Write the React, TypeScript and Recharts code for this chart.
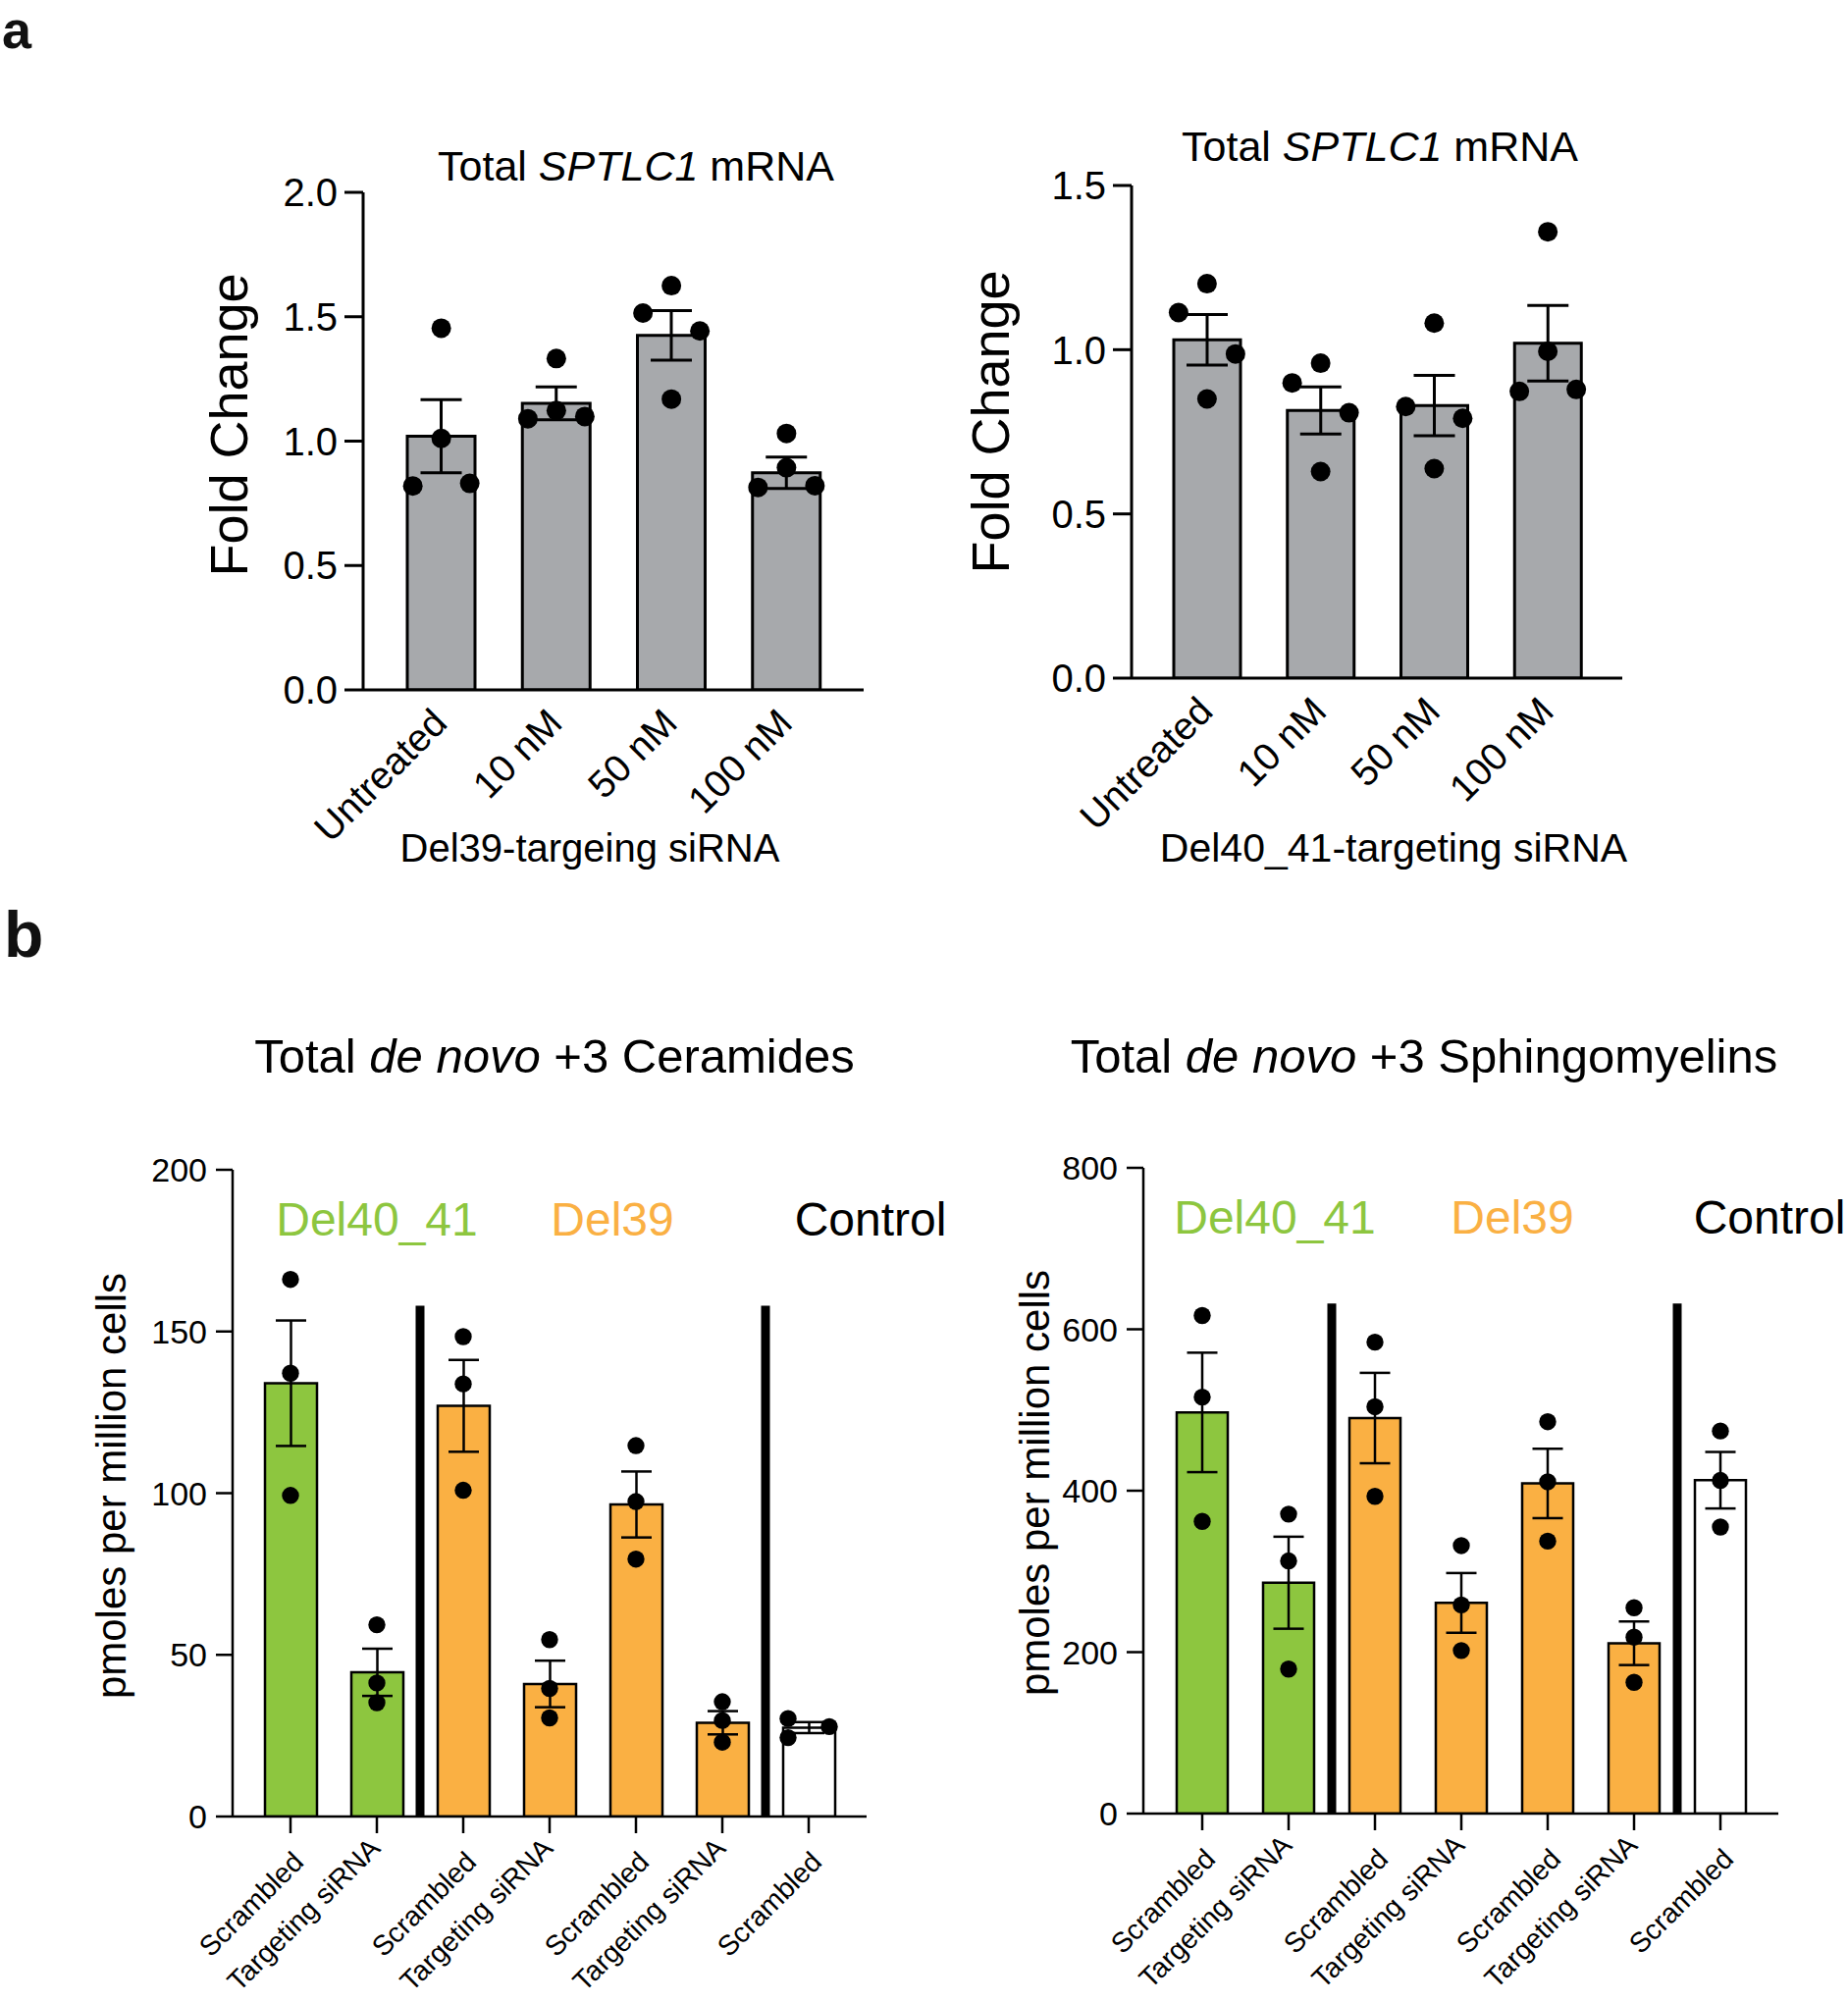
import React from 'react';
import {
  ComposedChart,
  Bar,
  Line,
  XAxis,
  YAxis,
  ErrorBar,
  Cell,
  ReferenceLine,
  ReferenceDot,
} from 'recharts';

const FONT = "'Liberation Sans', Arial, Helvetica, sans-serif";

// ---------------- Panel a: Total SPTLC1 mRNA (fold change) ----------------
const doseKeys = ['untreated', 'nM10', 'nM50', 'nM100'];
const doseLabels = ['Untreated', '10 nM', '50 nM', '100 nM'];

// Del39-targeting siRNA
const del39Mean = [1.02, 1.152, 1.425, 0.873];
const del39Sem = [0.147, 0.066, 0.1, 0.063];
const del39Reps = [
  [1.454, 1.011, 0.82, 0.83],
  [1.332, 1.09, 1.123, 1.099],
  [1.625, 1.515, 1.443, 1.169],
  [1.031, 0.893, 0.814, 0.821],
];

// Del40_41-targeting siRNA
const del4041Mean = [1.03, 0.815, 0.83, 1.02];
const del4041Sem = [0.077, 0.072, 0.092, 0.115];
const del4041Reps = [
  [1.201, 1.113, 0.987, 0.85],
  [0.959, 0.899, 0.808, 0.629],
  [1.081, 0.827, 0.791, 0.638],
  [1.359, 0.995, 0.873, 0.879],
];

// ---------------- Panel b: de novo +3 lipids ----------------
const lipidKeys = ['d4041Scr', 'd4041Tgt', 'd39aScr', 'd39aTgt', 'd39bScr', 'd39bTgt', 'ctrlScr'];
const lipidLabels = [
  'Scrambled',
  'Targeting siRNA',
  'Scrambled',
  'Targeting siRNA',
  'Scrambled',
  'Targeting siRNA',
  'Scrambled',
];
const groupNames = ['Del40_41', 'Del39', 'Control'];

// Total de novo +3 Ceramides (pmoles per million cells)
const cerMean = [134, 44.6, 127, 41, 96.5, 29, 27.5];
const cerSem = [19.4, 7.3, 14.2, 7.2, 10.2, 3.6, 1.7];
const cerReps = [
  [166.1, 137.1, 99.3],
  [59.3, 41.3, 35.2],
  [148.4, 133.8, 100.9],
  [54.7, 39.6, 30.5],
  [114.7, 97.4, 79.6],
  [35.5, 29.7, 23.0],
  [30.3, 27.8, 24.4],
];

// Total de novo +3 Sphingomyelins (pmoles per million cells)
const smMean = [497, 286, 490, 261, 409, 211, 413];
const smSem = [74, 57, 56, 37, 43, 27, 35];
const smReps = [
  [617, 516, 362],
  [371, 313, 179],
  [584, 504, 393],
  [332, 258.5, 202],
  [485.5, 411, 337.5],
  [255, 218.6, 162.6],
  [474, 412.7, 355],
];

// ---------------- styles ----------------
const GREY = '#A7A9AC';
const GREEN = '#8DC63F';
const ORANGE = '#FAB043';
const WHITE = '#FFFFFF';
const doseFills = [GREY, GREY, GREY, GREY];
const lipidFills = [GREEN, GREEN, ORANGE, ORANGE, ORANGE, ORANGE, WHITE];
const groupColors = [GREEN, ORANGE, '#000000'];

// horizontal spreading of replicate dots (in dot steps), per category
const del39Spread = [
  [0, 0, -1, 1],
  [0, -1, 0, 1],
  [0, -1, 1, 0],
  [0, 0, -1, 1],
];
const del4041Spread = [
  [0, -1, 1, 0],
  [0, -1, 1, 0],
  [0, -1, 1, 0],
  [0, 0, -1, 1],
];
const cerSpread = [
  [0, 0, 0],
  [0, 0, 0],
  [0, 0, 0],
  [0, 0, 0],
  [0, 0, 0],
  [0, 0, 0],
  [-1, 1, -1],
];
const smSpread = [
  [0, 0, 0],
  [0, 0, 0],
  [0, 0, 0],
  [0, 0, 0],
  [0, 0, 0],
  [0, 0, 0],
  [0, 0, 0],
];

function buildRows(keys: string[], mean: number[], sem: number[], reps: number[][]) {
  return keys.map((k, i) => {
    const row: any = { key: k, mean: mean[i], sem: sem[i] };
    reps[i].forEach((v, j) => {
      row['r' + j] = v;
    });
    return row;
  });
}

type ChartCfg = {
  left: number;
  top: number;
  width: number;
  height: number;
  margin: { top: number; right: number; bottom: number; left: number };
  xAxisHeight: number;
  yWidth: number;
  domain: [number, number];
  ticks: number[];
  decimals: number;
  padding: { left: number; right: number };
  barSize: number;
  lineW: number;
  yTickFont: number;
  yTickSize: number;
  yTickMargin: number;
  xTickFont: number;
  xTickSize: number;
  capHalf: number;
  dotR: number;
  dotStep: number;
};

const A_LEFT: ChartCfg = {
  left: 0,
  top: 0,
  width: 940,
  height: 900,
  margin: { top: 196, right: 60, bottom: 0, left: 0 },
  xAxisHeight: 197,
  yWidth: 370,
  domain: [0, 2],
  ticks: [0, 0.5, 1, 1.5, 2],
  decimals: 1,
  padding: { left: 21, right: 20 },
  barSize: 69,
  lineW: 3,
  yTickFont: 40,
  yTickSize: 19,
  yTickMargin: 7,
  xTickFont: 39,
  xTickSize: 0,
  capHalf: 21,
  dotR: 10,
  dotStep: 29,
};

const A_RIGHT: ChartCfg = {
  ...A_LEFT,
  left: 940,
  width: 943,
  margin: { top: 189, right: 230, bottom: 0, left: 0 },
  xAxisHeight: 209,
  yWidth: 213,
  domain: [0, 1.5],
  ticks: [0, 0.5, 1, 1.5],
  padding: { left: 19, right: 18 },
  barSize: 68,
};

const B_LEFT: ChartCfg = {
  left: 0,
  top: 1000,
  width: 1000,
  height: 1040,
  margin: { top: 192, right: 117, bottom: 0, left: 0 },
  xAxisHeight: 189,
  yWidth: 237,
  domain: [0, 200],
  ticks: [0, 50, 100, 150, 200],
  decimals: 0,
  padding: { left: 15, right: 15 },
  barSize: 53,
  lineW: 2.5,
  yTickFont: 34,
  yTickSize: 17,
  yTickMargin: 9,
  xTickFont: 28.5,
  xTickSize: 17,
  capHalf: 15.5,
  dotR: 8.7,
  dotStep: 21,
};

const B_RIGHT: ChartCfg = {
  ...B_LEFT,
  left: 940,
  width: 943,
  margin: { top: 190, right: 71, bottom: 0, left: 0 },
  xAxisHeight: 192,
  yWidth: 225,
  domain: [0, 800],
  ticks: [0, 200, 400, 600, 800],
  padding: { left: 16, right: 15 },
  barSize: 52,
};

type Extra = {
  labels: string[];
  fills: string[];
  spread: number[][];
  nReps: number;
  rotatedOffset: (label: string) => { dx: number; dy: number };
  separators?: { key: string; top: number }[];
  groupLabels?: { key: string; y: number; dx: number; text: string; color: string }[];
};

function BarDotChart({ cfg, rows, extra }: { cfg: ChartCfg; rows: any[]; extra: Extra }) {
  const RotTick = (props: any) => {
    const { x, y, index } = props;
    const label = extra.labels[index];
    const o = extra.rotatedOffset(label);
    return (
      <text
        x={0}
        y={0}
        transform={`translate(${x + o.dx},${y + o.dy}) rotate(-45)`}
        textAnchor="end"
        fontSize={cfg.xTickFont}
        fontFamily={FONT}
        fill="#000"
      >
        {label}
      </text>
    );
  };

  const repIdx = Array.from({ length: extra.nReps }, (_, k) => k);

  return (
    <div style={{ position: 'absolute', left: cfg.left, top: cfg.top }}>
      <ComposedChart width={cfg.width} height={cfg.height} data={rows} margin={cfg.margin}>
        <XAxis
          dataKey="key"
          type="category"
          interval={0}
          height={cfg.xAxisHeight}
          padding={cfg.padding}
          axisLine={{ stroke: '#000', strokeWidth: cfg.lineW }}
          tickLine={cfg.xTickSize > 0 ? { stroke: '#000', strokeWidth: cfg.lineW } : false}
          tickSize={cfg.xTickSize}
          tickMargin={0}
          tick={<RotTick />}
        />
        <YAxis
          type="number"
          domain={cfg.domain}
          ticks={cfg.ticks}
          interval={0}
          width={cfg.yWidth}
          allowDataOverflow
          axisLine={{ stroke: '#000', strokeWidth: cfg.lineW }}
          tickLine={{ stroke: '#000', strokeWidth: cfg.lineW }}
          tickSize={cfg.yTickSize}
          tickMargin={cfg.yTickMargin}
          tickFormatter={(v: number) => v.toFixed(cfg.decimals)}
          tick={{ fill: '#000', fontSize: cfg.yTickFont, fontFamily: FONT }}
        />
        <Bar
          dataKey="mean"
          barSize={cfg.barSize}
          stroke="#000"
          strokeWidth={cfg.lineW}
          isAnimationActive={false}
        >
          {rows.map((r, i) => (
            <Cell key={r.key} fill={extra.fills[i]} />
          ))}
          <ErrorBar dataKey="sem" width={cfg.capHalf} stroke="#000" strokeWidth={cfg.lineW} />
        </Bar>
        {(extra.separators || []).map((s) => (
          <ReferenceLine
            key={'sep-' + s.key}
            segment={[
              { x: s.key, y: 0 },
              { x: s.key, y: s.top },
            ]}
            position="end"
            stroke="#000"
            strokeWidth={9}
            ifOverflow="visible"
          />
        ))}
        {repIdx.map((k) => (
          <Line
            key={'rep' + k}
            dataKey={'r' + k}
            stroke="none"
            isAnimationActive={false}
            activeDot={false}
            legendType="none"
            dot={(p: any) => {
              if (p.cx == null || p.cy == null) return <g key={`d${k}-${p.index}`} />;
              const off = (extra.spread[p.index]?.[k] ?? 0) * cfg.dotStep;
              return (
                <circle key={`d${k}-${p.index}`} cx={p.cx + off} cy={p.cy} r={cfg.dotR} fill="#000" />
              );
            }}
          />
        ))}
        {(extra.groupLabels || []).map((g) => (
          <ReferenceDot
            key={'grp-' + g.text}
            x={g.key}
            y={g.y}
            r={0}
            ifOverflow="visible"
            shape={() => <g />}
            label={{
              content: (lp: any) => {
                const vb = lp.viewBox || {};
                return (
                  <text
                    x={(vb.x ?? 0) + (vb.width ?? 0) / 2 + g.dx}
                    y={(vb.y ?? 0) + (vb.height ?? 0) / 2}
                    textAnchor="middle"
                    fontSize={48}
                    fontFamily={FONT}
                    fill={g.color}
                  >
                    {g.text}
                  </text>
                );
              },
            }}
          />
        ))}
      </ComposedChart>
    </div>
  );
}

const aOffset = () => ({ dx: 8, dy: 36 });
const bOffset = (label: string) => (label === 'Scrambled' ? { dx: 15, dy: 31 } : { dx: 5, dy: 17 });

export default function App() {
  const del39Rows = buildRows(doseKeys, del39Mean, del39Sem, del39Reps);
  const del4041Rows = buildRows(doseKeys, del4041Mean, del4041Sem, del4041Reps);
  const cerRows = buildRows(lipidKeys, cerMean, cerSem, cerReps);
  const smRows = buildRows(lipidKeys, smMean, smSem, smReps);

  const sepCer = [
    { key: lipidKeys[1], top: 158 },
    { key: lipidKeys[5], top: 158 },
  ];
  const sepSm = [
    { key: lipidKeys[1], top: 632 },
    { key: lipidKeys[5], top: 632 },
  ];
  const grpCer = [
    { key: lipidKeys[1], y: 179.6, dx: 0, text: groupNames[0], color: groupColors[0] },
    { key: lipidKeys[4], y: 179.6, dx: -24, text: groupNames[1], color: groupColors[1] },
    { key: lipidKeys[6], y: 179.6, dx: 63, text: groupNames[2], color: groupColors[2] },
  ];
  const grpSm = [
    { key: lipidKeys[1], y: 718.6, dx: -14, text: groupNames[0], color: groupColors[0] },
    { key: lipidKeys[4], y: 718.6, dx: -36, text: groupNames[1], color: groupColors[1] },
    { key: lipidKeys[6], y: 718.6, dx: 50, text: groupNames[2], color: groupColors[2] },
  ];

  return (
    <div
      style={{
        position: 'absolute',
        left: 0,
        top: 0,
        width: 1883,
        height: 2040,
        background: '#fff',
        overflow: 'hidden',
        fontFamily: FONT,
      }}
    >
      <BarDotChart
        cfg={A_LEFT}
        rows={del39Rows}
        extra={{ labels: doseLabels, fills: doseFills, spread: del39Spread, nReps: 4, rotatedOffset: aOffset }}
      />
      <BarDotChart
        cfg={A_RIGHT}
        rows={del4041Rows}
        extra={{ labels: doseLabels, fills: doseFills, spread: del4041Spread, nReps: 4, rotatedOffset: aOffset }}
      />
      <BarDotChart
        cfg={B_LEFT}
        rows={cerRows}
        extra={{
          labels: lipidLabels,
          fills: lipidFills,
          spread: cerSpread,
          nReps: 3,
          rotatedOffset: bOffset,
          separators: sepCer,
          groupLabels: grpCer,
        }}
      />
      <BarDotChart
        cfg={B_RIGHT}
        rows={smRows}
        extra={{
          labels: lipidLabels,
          fills: lipidFills,
          spread: smSpread,
          nReps: 3,
          rotatedOffset: bOffset,
          separators: sepSm,
          groupLabels: grpSm,
        }}
      />
      <svg
        width={1883}
        height={2040}
        style={{ position: 'absolute', left: 0, top: 0, pointerEvents: 'none' }}
        fontFamily={FONT}
      >
        <text x={2} y={49} fontSize={54} fontWeight="bold" fill="#111">a</text>
        <text x={4} y={975} fontSize={66} fontWeight="bold" fill="#111">b</text>

        <text x={648} y={184} fontSize={43} textAnchor="middle" fill="#000">
          Total <tspan fontStyle="italic">SPTLC1</tspan> mRNA
        </text>
        <text x={1406} y={164} fontSize={43} textAnchor="middle" fill="#000">
          Total <tspan fontStyle="italic">SPTLC1</tspan> mRNA
        </text>
        <text x={252} y={433} fontSize={54} textAnchor="middle" fill="#000" transform="rotate(-90 252 433)">
          Fold Change
        </text>
        <text x={1028} y={430} fontSize={54} textAnchor="middle" fill="#000" transform="rotate(-90 1028 430)">
          Fold Change
        </text>
        <text x={601} y={878} fontSize={40} textAnchor="middle" fill="#000">
          Del39-targeing siRNA
        </text>
        <text x={1420} y={878} fontSize={41} textAnchor="middle" fill="#000">
          Del40_41-targeting siRNA
        </text>

        <text x={565} y={1093} fontSize={49} textAnchor="middle" fill="#000">
          Total <tspan fontStyle="italic">de novo</tspan> +3 Ceramides
        </text>
        <text x={1451} y={1093} fontSize={49} textAnchor="middle" fill="#000">
          Total <tspan fontStyle="italic">de novo</tspan> +3 Sphingomyelins
        </text>
        <text x={128} y={1514} fontSize={42} textAnchor="middle" fill="#000" transform="rotate(-90 128 1514)">
          pmoles per million cells
        </text>
        <text x={1069} y={1511} fontSize={42} textAnchor="middle" fill="#000" transform="rotate(-90 1069 1511)">
          pmoles per million cells
        </text>
      </svg>
    </div>
  );
}
